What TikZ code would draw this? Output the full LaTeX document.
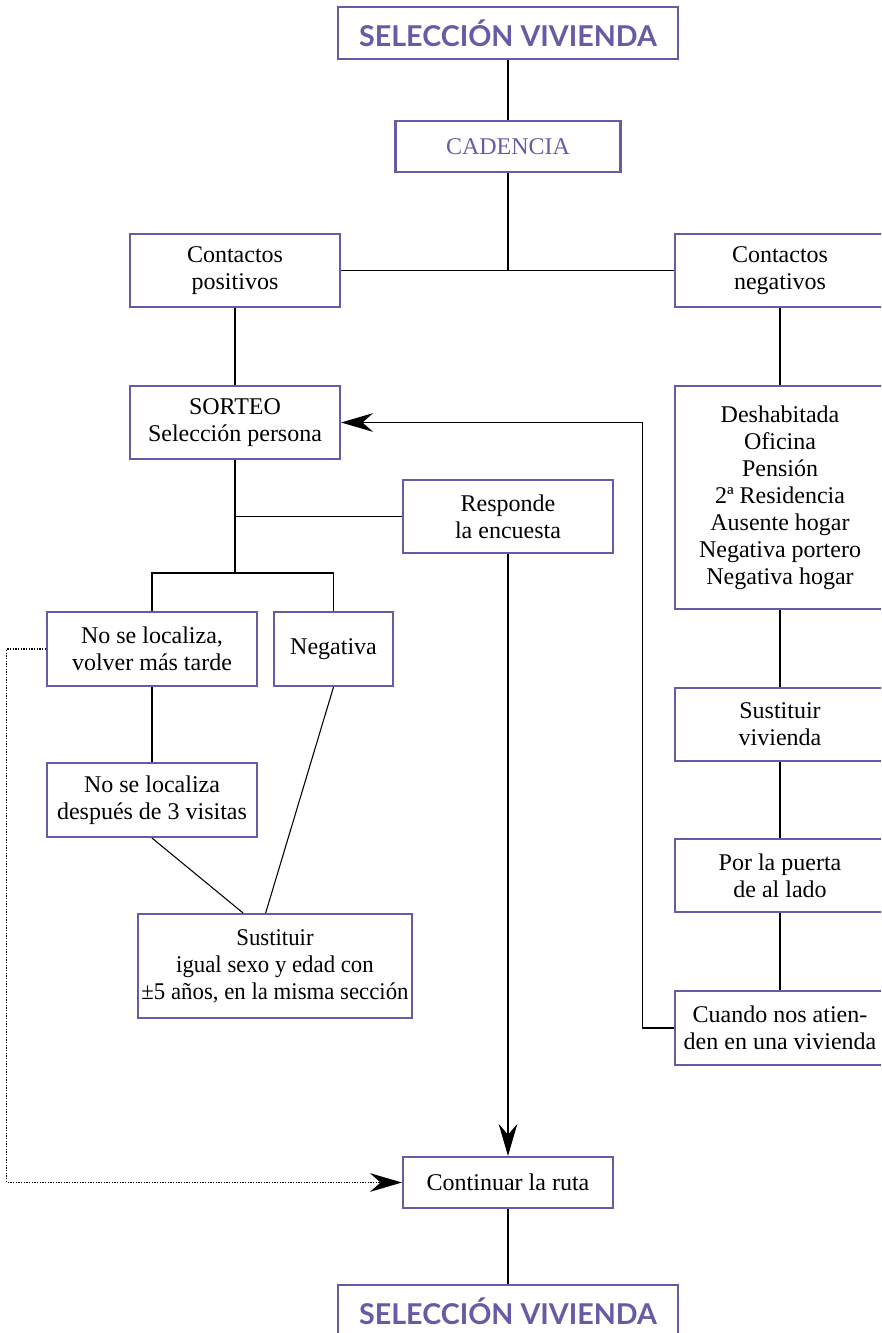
\documentclass[tikz,border=0pt]{standalone}
\usepackage{fontspec}
\setmainfont{Liberation Serif}
\newfontfamily\titlefont{Lato}
\newfontfamily\estrecha{Liberation Serif}[FakeStretch=0.95]
\usetikzlibrary{arrows.meta}
\definecolor{lavanda}{RGB}{102, 92, 166}

\tikzset{
  caja/.style 2 args={draw=lavanda, line width=1.6pt, align=center, inner sep=0pt,
      minimum width=#1*0.75pt, minimum height=#2*0.75pt,
      font=\fontsize{18}{20.25}\selectfont},
  titulo/.style={caja={340}{52}, text=lavanda,
      font=\titlefont\bfseries\fontsize{21.5}{24}\selectfont},
  linea/.style={line width=0.8pt},
  flecha/.style={linea, -{Stealth[length=24pt, width=14pt, inset=8pt]}},
  punteada/.style={line width=0.8pt, dash pattern=on 1pt off 1pt}
}

\begin{document}
\begin{tikzpicture}[x=0.75pt, y=-0.75pt]
            % Frame
            \useasboundingbox (0,0) rectangle (881,1333);
            \clip (0,0) rectangle (881,1333);
            % Cabecera
            \node[titulo]             (sel1)     at (508, 33.0)   {SELECCIÓN VIVIENDA};
            \node[caja={225}{51}, text=lavanda] (cad) at (508,146.5) {CADENCIA};
            \node[caja={210}{73}]     (pos)      at (235,270.5)   {Contactos\\positivos};
            \node[caja={210}{73}]     (neg)      at (780,270.5)   {Contactos\\negativos};
            % Contactos positivos
            \node[caja={210}{73}]     (sorteo)   at (235,422.5)   {SORTEO\\Selección persona};
            \node[caja={210}{73}]     (responde) at (508,516.5)   {Responde\\la encuesta};
            \node[caja={210}{74}]     (nolocal)  at (152,649.0)   {No se localiza,\\volver más tarde};
            \node[caja={119}{74}]     (negativa) at (333.5,649.0) {Negativa};
            \node[caja={210}{74}]     (tresvis)  at (152,800.0)   {No se localiza\\después de 3 visitas};
            \node[caja={274}{104}, font=\estrecha\fontsize{18}{20.25}\selectfont]
                                      (sustper)  at (275,966.0)   {Sustituir\\igual sexo y edad con\\±5 años, en la misma sección};
            % Contactos negativos
            \node[caja={210}{223}]    (tipos)    at (780,497.5)   {Deshabitada\\Oficina\\Pensión\\2ª Residencia\\Ausente hogar\\Negativa portero\\Negativa hogar};
            \node[caja={210}{73}]     (sustviv)  at (780,724.5)   {Sustituir\\vivienda};
            \node[caja={210}{73}]     (puerta)   at (780,875.5)   {Por la puerta\\de al lado};
            \node[caja={210}{74}]     (cuando)   at (780,1028.0)  {Cuando nos atien-\\den en una vivienda};
            % Final
            \node[caja={210}{51}]     (ruta)     at (508,1182.5)  {Continuar la ruta};
            \node[titulo]             (sel2)     at (508,1311.0)  {SELECCIÓN VIVIENDA};
            \coordinate (rama) at (235,573);

            % Lineas cabecera
            \draw[linea] (sel1) -- (cad);
            \draw[linea] (cad) -- (cad |- pos);
            \draw[linea] (pos) -- (neg);
            % Lineas contactos positivos
            \draw[linea] (pos) -- (sorteo);
            \draw[linea] (sorteo) -- (rama);
            \draw[linea] (sorteo |- responde) -- (responde);
            \draw[linea] (nolocal) |- (rama) -| (negativa);
            \draw[linea] (nolocal) -- (tresvis);
            \draw[linea] (tresvis.south) -- ([xshift=-24pt]sustper.north);
            \draw[linea] (negativa.south) -- ([xshift=-7pt]sustper.north);
            \draw[flecha] (responde) -- (ruta);
            \draw[flecha, punteada] (nolocal.west) -- ++(-39,0) |- (ruta);
            % Lineas contactos negativos
            \draw[linea] (neg) -- (tipos) -- (sustviv) -- (puerta) -- (cuando);
            \draw[flecha] (cuando.west) -- ++(-31,0) |- (sorteo);
            \draw[linea] (ruta) -- (sel2);
\end{tikzpicture}
\end{document}
